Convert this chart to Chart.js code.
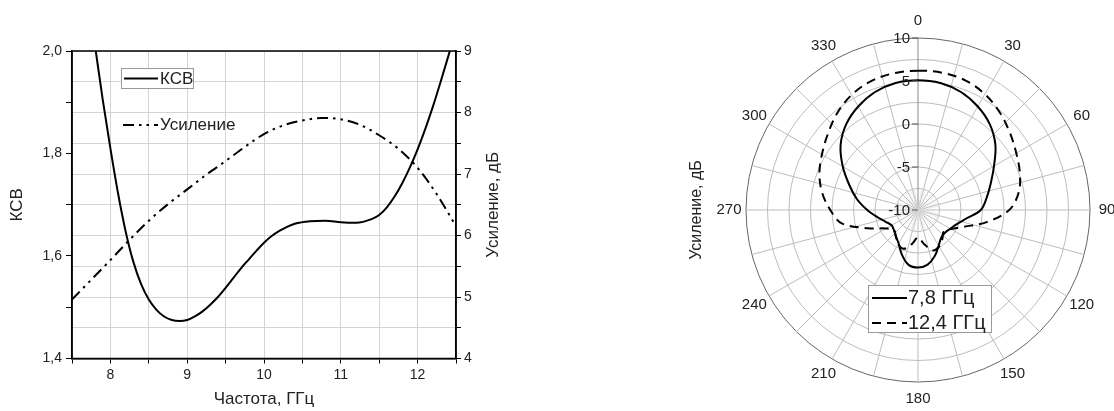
<!DOCTYPE html>
<html>
<head>
<meta charset="utf-8">
<script src="https://cdn.jsdelivr.net/npm/chart.js@4"></script>
<style>
  body { margin: 0; background: #fff; }
  #wrap { position: relative; width: 1114px; height: 411px; }
  #vswr { position: absolute; left: 0; top: 0; }
  #polar { position: absolute; left: 560px; top: 0; }
</style>
</head>
<body>
<div id="wrap">
  <canvas id="vswr" width="560" height="411"></canvas>
  <canvas id="polar" width="554" height="411"></canvas>
</div>
<script>
const FONT = "'Liberation Sans', Arial, sans-serif";
const INK = '#222';

// КСВ по частоте (ГГц)
const ksvFreq = [7.8, 7.9, 8.0, 8.1, 8.2, 8.3, 8.4, 8.5, 8.6, 8.7, 8.8, 8.9, 9.0, 9.1, 9.2, 9.3, 9.4, 9.5,
  9.6, 9.7, 9.8, 9.9, 10.0, 10.1, 10.2, 10.3, 10.4, 10.6, 10.8, 11.0, 11.2, 11.4, 11.5, 11.6, 11.7, 11.8,
  11.9, 12.0, 12.1, 12.2, 12.3, 12.4, 12.45];
const ksvValues = [2.01, 1.905, 1.81, 1.722, 1.647, 1.588, 1.545, 1.515, 1.495, 1.482, 1.475, 1.473, 1.475,
  1.482, 1.492, 1.505, 1.52, 1.538, 1.557, 1.576, 1.593, 1.610, 1.626, 1.639, 1.649, 1.657, 1.663, 1.668,
  1.669, 1.666, 1.665, 1.672, 1.68, 1.695, 1.716, 1.742, 1.773, 1.808, 1.848, 1.892, 1.94, 1.99, 2.016];

// Усиление, дБ
const gainFreq = [7.5, 7.75, 8.0, 8.25, 8.5, 8.75, 9.0, 9.25, 9.5, 9.75, 10.0, 10.25, 10.5, 10.75,
  11.0, 11.25, 11.5, 11.75, 12.0, 12.25, 12.5];
const gainValues = [4.96, 5.28, 5.60, 5.93, 6.24, 6.51, 6.75, 6.99, 7.21, 7.44, 7.65, 7.79, 7.87, 7.91,
  7.89, 7.80, 7.63, 7.41, 7.10, 6.67, 6.15];

// диаграмма направленности
const angleLabels = [];
for (let a = 0; a < 360; a += 5) angleLabels.push(a);
const patternAngles = [0, 10, 20, 30, 40, 50, 60, 70, 80, 90, 100, 110, 120, 130, 140, 150, 160, 170,
  180, 190, 200, 210, 220, 230, 240, 250, 260, 270, 280, 290, 300, 310, 320, 330, 340, 350];
const pattern78 = [5.1, 5.0, 4.6, 3.9, 3.0, 1.75, 0.2, -1.0, -1.9, -2.7, -4.3, -5.2, -5.65, -5.9, -5.8,
  -5.2, -4.3, -3.55, -3.3, -3.55, -4.5, -5.5, -6.0, -6.35, -6.45, -6.0, -5.2, -4.1, -2.8, -1.5, 0.1,
  1.75, 3.0, 3.9, 4.6, 5.0];
const pattern124 = [6.2, 6.2, 6.05, 5.55, 4.8, 3.95, 3.2, 2.6, 1.9, 0.6, -1.9, -4.3, -5.6, -6.1, -5.6,
  -5.1, -5.0, -6.0, -6.8, -6.0, -5.2, -5.4, -6.0, -6.35, -5.7, -3.8, -1.0, 0.2, 1.3, 2.2, 2.9, 3.7,
  4.65, 5.45, 5.95, 6.15];
const radialTicks = [-10, -5, 0, 5, 10];

const toPoints = (xs, ys) => xs.map((x, i) => ({ x: x, y: ys[i] }));
const onAngles = (vals) => angleLabels.map(a => {
  const i = patternAngles.indexOf(a);
  return i < 0 ? null : vals[i];
});
const comma = (v) => String(v).replace('.', ',');

const GAIN_DASH = [11, 5, 2.5, 5, 2.5, 5];
const PAT_DASH = [9, 6];

// рамка, легенда и правая подпись
const vswrDecor = {
  id: 'vswrDecor',
  afterDraw(chart) {
    const { ctx, chartArea: a } = chart;
    ctx.save();
    ctx.strokeStyle = '#000';
    ctx.lineWidth = 1.5;
    ctx.strokeRect(a.left, a.top, a.right - a.left, a.bottom - a.top);

    ctx.fillStyle = '#fff';
    ctx.fillRect(121, 68, 73, 21);
    ctx.strokeStyle = '#999';
    ctx.lineWidth = 1;
    ctx.strokeRect(121.5, 68.5, 72, 20);

    ctx.strokeStyle = '#000';
    ctx.lineWidth = 2;
    ctx.beginPath(); ctx.moveTo(124, 78.5); ctx.lineTo(158, 78.5); ctx.stroke();
    ctx.setLineDash(GAIN_DASH);
    ctx.beginPath(); ctx.moveTo(123, 125); ctx.lineTo(158, 125); ctx.stroke();
    ctx.setLineDash([]);

    ctx.fillStyle = INK;
    ctx.font = '17px ' + FONT;
    ctx.textBaseline = 'middle';
    ctx.textAlign = 'left';
    ctx.fillText('КСВ', 160, 79);
    ctx.fillText('Усиление', 160, 125);

    ctx.translate(493, (a.top + a.bottom) / 2);
    ctx.rotate(-Math.PI / 2);
    ctx.textAlign = 'center';
    ctx.fillText('Усиление, дБ', 0, 0);
    ctx.restore();
  }
};

new Chart(document.getElementById('vswr'), {
  type: 'line',
  data: {
    datasets: [
      {
        label: 'КСВ',
        data: toPoints(ksvFreq, ksvValues),
        yAxisID: 'y',
        borderColor: '#000',
        borderWidth: 2,
        pointRadius: 0,
        fill: false,
        cubicInterpolationMode: 'monotone'
      },
      {
        label: 'Усиление',
        data: toPoints(gainFreq, gainValues),
        yAxisID: 'y1',
        borderColor: '#000',
        borderWidth: 2,
        borderDash: GAIN_DASH,
        pointRadius: 0,
        fill: false,
        cubicInterpolationMode: 'monotone'
      }
    ]
  },
  options: {
    responsive: false,
    animation: false,
    layout: { padding: { top: 51, left: 0, right: 0, bottom: 0 } },
    plugins: { legend: { display: false }, tooltip: { enabled: false } },
    scales: {
      x: {
        type: 'linear',
        min: 7.5,
        max: 12.5,
        ticks: {
          stepSize: 0.5,
          autoSkip: false,
          maxRotation: 0,
          padding: 3,
          color: INK,
          font: { family: FONT, size: 14 },
          callback: v => Number.isInteger(v) ? v : ''
        },
        grid: { color: '#d4d4d4', tickColor: '#000', tickLength: 5 },
        border: { color: '#000', width: 1.5 },
        title: {
          display: true,
          text: 'Частота, ГГц',
          color: INK,
          font: { family: FONT, size: 17 },
          padding: { top: 4, bottom: 1 }
        },
        afterFit: s => { s.height = 52.5; }
      },
      y: {
        position: 'left',
        min: 1.4,
        max: 2.0,
        ticks: {
          stepSize: 0.1,
          padding: 4,
          color: INK,
          font: { family: FONT, size: 14 },
          callback: v => Math.round(v * 10) % 2 === 0 ? comma(v.toFixed(1)) : ''
        },
        grid: { drawOnChartArea: false, tickColor: '#000', tickLength: 6 },
        border: { color: '#000', width: 1.5 },
        title: {
          display: true,
          text: 'КСВ',
          color: INK,
          font: { family: FONT, size: 17 },
          padding: { top: 7, bottom: 0 }
        },
        afterFit: s => { s.width = 72; }
      },
      y1: {
        position: 'right',
        min: 4,
        max: 9,
        ticks: {
          stepSize: 0.5,
          padding: 3,
          color: INK,
          font: { family: FONT, size: 14 },
          callback: v => Number.isInteger(v) ? v : ''
        },
        grid: { color: '#d4d4d4', tickColor: '#000', tickLength: 5 },
        border: { color: '#000', width: 1.5 },
        afterFit: s => { s.width = 104; }
      }
    }
  },
  plugins: [vswrDecor]
});

// подписи углов, шкала, легенда
const polarDecor = {
  id: 'polarDecor',
  beforeDatasetsDraw(chart) {
    // частые лучи у центра
    const { ctx } = chart;
    const r = chart.scales.r;
    const inner = r.getDistanceFromCenterForValue(-7.5);
    ctx.save();
    ctx.strokeStyle = '#dcdcdc';
    ctx.lineWidth = 0.6;
    angleLabels.forEach((a, i) => {
      if (a % 15 === 0 || a % 10 !== 0) return;
      const p = r.getPointPosition(i, inner);
      ctx.beginPath(); ctx.moveTo(r.xCenter, r.yCenter); ctx.lineTo(p.x, p.y); ctx.stroke();
    });
    ctx.restore();
  },
  afterDraw(chart) {
    const { ctx } = chart;
    const r = chart.scales.r;
    ctx.save();
    ctx.fillStyle = INK;
    ctx.font = '15px ' + FONT;
    ctx.textBaseline = 'middle';

    ctx.textAlign = 'center';
    angleLabels.forEach((a, i) => {
      if (a % 30 !== 0) return;
      const p = r.getPointPosition(i, r.drawingArea + 17);
      ctx.fillText(String(a), p.x, p.y);
    });

    ctx.textAlign = 'right';
    ctx.strokeStyle = '#555';
    ctx.lineWidth = 1;
    radialTicks.forEach(v => {
      const y = r.yCenter - r.getDistanceFromCenterForValue(v);
      ctx.beginPath(); ctx.moveTo(r.xCenter - 6, y); ctx.lineTo(r.xCenter, y); ctx.stroke();
      ctx.fillText(String(v), r.xCenter - 8, y + 1);
    });

    // легенда
    ctx.fillStyle = '#fff';
    ctx.fillRect(308, 285, 124, 48);
    ctx.strokeStyle = '#999';
    ctx.strokeRect(308.5, 285.5, 123, 47);
    ctx.strokeStyle = '#000';
    ctx.lineWidth = 2;
    ctx.beginPath(); ctx.moveTo(312, 298); ctx.lineTo(347, 298); ctx.stroke();
    ctx.setLineDash(PAT_DASH);
    ctx.beginPath(); ctx.moveTo(312, 323); ctx.lineTo(347, 323); ctx.stroke();
    ctx.setLineDash([]);
    ctx.fillStyle = INK;
    ctx.font = '20px ' + FONT;
    ctx.textAlign = 'left';
    ctx.fillText('7,8 ГГц', 348, 298);
    ctx.fillText('12,4 ГГц', 348, 323);

    ctx.font = '16px ' + FONT;
    ctx.translate(137, r.yCenter);
    ctx.rotate(-Math.PI / 2);
    ctx.textAlign = 'center';
    ctx.fillText('Усиление, дБ', 0, 0);
    ctx.restore();
  }
};

new Chart(document.getElementById('polar'), {
  type: 'radar',
  data: {
    labels: angleLabels,
    datasets: [
      {
        label: '7,8 ГГц',
        data: onAngles(pattern78),
        borderColor: '#000',
        borderWidth: 2,
        pointRadius: 0,
        fill: false,
        spanGaps: true,
        tension: 0.35
      },
      {
        label: '12,4 ГГц',
        data: onAngles(pattern124),
        borderColor: '#000',
        borderWidth: 2,
        borderDash: PAT_DASH,
        pointRadius: 0,
        fill: false,
        spanGaps: true,
        tension: 0.35
      }
    ]
  },
  options: {
    responsive: false,
    animation: false,
    layout: { padding: { top: 38, bottom: 29, left: 186, right: 24 } },
    plugins: { legend: { display: false }, tooltip: { enabled: false } },
    scales: {
      r: {
        min: -10,
        max: 10,
        ticks: { stepSize: 2.5, display: false },
        grid: {
          circular: true,
          color: c => (c.tick && c.tick.value === 10) ? '#666' : '#bdbdbd'
        },
        angleLines: {
          color: c => c.index === 0 ? '#888' : '#bdbdbd',
          lineWidth: c => c.index % 3 === 0 ? 1 : 0
        },
        pointLabels: { display: false }
      }
    }
  },
  plugins: [polarDecor]
});
</script>
</body>
</html>
